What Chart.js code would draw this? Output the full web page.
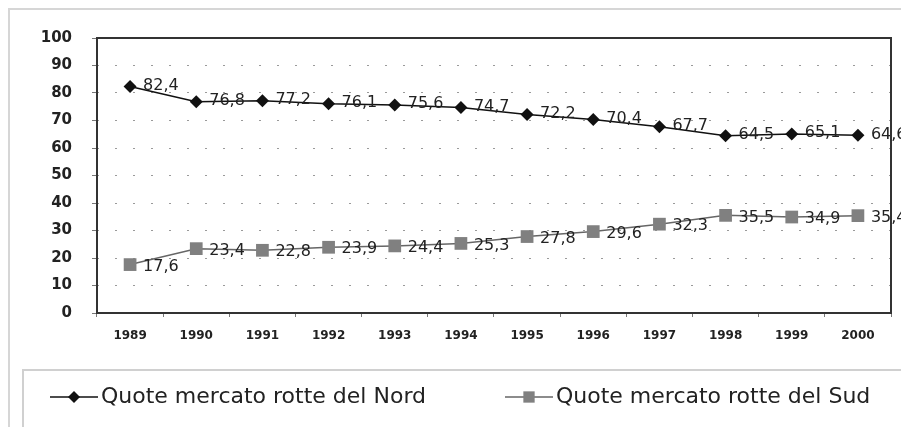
<!DOCTYPE html>
<html>
<head>
<meta charset="utf-8">
<script src="https://cdn.jsdelivr.net/npm/chart.js@4"></script>
<style>
  body { margin: 0; background: #fff; }
  #wrap { width: 901px; height: 427px; }
</style>
</head>
<body>
<div id="wrap"><canvas id="chartQuote" width="901" height="427"></canvas></div>
<script>
const anni = ['1989', '1990', '1991', '1992', '1993', '1994', '1995', '1996', '1997', '1998', '1999', '2000'];
const quoteNord = [82.4, 76.8, 77.2, 76.1, 75.6, 74.7, 72.2, 70.4, 67.7, 64.5, 65.1, 64.6];
const quoteSud = [17.6, 23.4, 22.8, 23.9, 24.4, 25.3, 27.8, 29.6, 32.3, 35.5, 34.9, 35.4];
const etichette = ['Quote mercato rotte del Nord', 'Quote mercato rotte del Sud'];

const fmt = v => v.toFixed(1).replace('.', ',');

// cornice esterna, riquadro del grafico, etichette dei valori e legenda
const decorazioni = {
    id: 'decorazioni',
    beforeDraw(chart) {
        const ctx = chart.ctx;
        ctx.save();
        ctx.strokeStyle = '#d6d6d6';
        ctx.lineWidth = 2;
        ctx.strokeRect(9, 9, 900, 430);
        ctx.restore();
    },
    afterDatasetsDraw(chart) {
        const ctx = chart.ctx;
        const a = chart.chartArea;
        ctx.save();
        ctx.font = '16px "DejaVu Sans"';
        ctx.fillStyle = '#222';
        ctx.textAlign = 'left';
        ctx.textBaseline = 'middle';
        chart.data.datasets.forEach((ds, i) => {
            chart.getDatasetMeta(i).data.forEach((pt, j) => {
                const dy = i === 0 ? -1 : 2;
                ctx.fillText(fmt(ds.data[j]), pt.x + 13, pt.y + dy);
            });
        });
        ctx.strokeStyle = '#333';
        ctx.lineWidth = 2;
        ctx.strokeRect(a.left, a.top, a.right - a.left, a.bottom - a.top);
        ctx.restore();
    },
    afterDraw(chart) {
        const ctx = chart.ctx;
        ctx.save();
        ctx.strokeStyle = '#d0d0d0';
        ctx.lineWidth = 2;
        ctx.strokeRect(23, 370, 890, 60);

        const y = 397;
        const items = [
            { x: 50, color: '#111', style: 'rectRot', r: 6, line: '#111' },
            { x: 505, color: '#808080', style: 'rect', r: 8, line: '#666' }
        ];
        items.forEach((it, i) => {
            ctx.strokeStyle = it.line;
            ctx.lineWidth = 1.5;
            ctx.beginPath();
            ctx.moveTo(it.x, y);
            ctx.lineTo(it.x + 48, y);
            ctx.stroke();
            ctx.fillStyle = it.color;
            Chart.helpers.drawPoint(ctx, {
                pointStyle: it.style,
                radius: it.r,
                borderWidth: 0
            }, it.x + 24, y);
            ctx.fillStyle = '#222';
            ctx.font = '22px "DejaVu Sans"';
            ctx.textBaseline = 'middle';
            ctx.fillText(etichette[i], it.x + 51, y);
        });
        ctx.restore();
    }
};

new Chart(document.getElementById('chartQuote').getContext('2d'), {
    type: 'line',
    data: {
        labels: anni,
        datasets: [{
            label: etichette[0],
            data: quoteNord,
            borderColor: '#111',
            backgroundColor: '#111',
            borderWidth: 1.5,
            pointStyle: 'rectRot',
            pointRadius: 6.5,
            pointBorderWidth: 0,
            tension: 0
        }, {
            label: etichette[1],
            data: quoteSud,
            borderColor: '#666',
            backgroundColor: '#808080',
            borderWidth: 1.5,
            pointStyle: 'rect',
            pointRadius: 9,
            pointBorderWidth: 0,
            tension: 0
        }]
    },
    options: {
        responsive: false,
        animation: false,
        layout: { padding: { top: 38, right: 10, bottom: 74, left: 0 } },
        plugins: {
            legend: { display: false },
            tooltip: { enabled: false }
        },
        scales: {
            x: {
                offset: true,
                afterFit: s => { s.height = 40; },
                grid: {
                    offset: true,
                    drawOnChartArea: false,
                    tickLength: 4,
                    color: '#777'
                },
                border: { display: false },
                ticks: {
                    padding: 12,
                    color: '#222',
                    font: { family: 'DejaVu Sans', size: 12, weight: 'bold' },
                    maxRotation: 0
                }
            },
            y: {
                min: 0,
                max: 100,
                afterFit: s => { s.width = 97; },
                grid: {
                    color: '#9a9a9a',
                    tickColor: '#777',
                    tickLength: 5
                },
                border: { display: false, dash: [2, 16] },
                ticks: {
                    stepSize: 10,
                    padding: 20,
                    color: '#222',
                    font: { family: 'DejaVu Sans', size: 15, weight: 'bold' }
                }
            }
        }
    },
    plugins: [decorazioni]
});
</script>
</body>
</html>
